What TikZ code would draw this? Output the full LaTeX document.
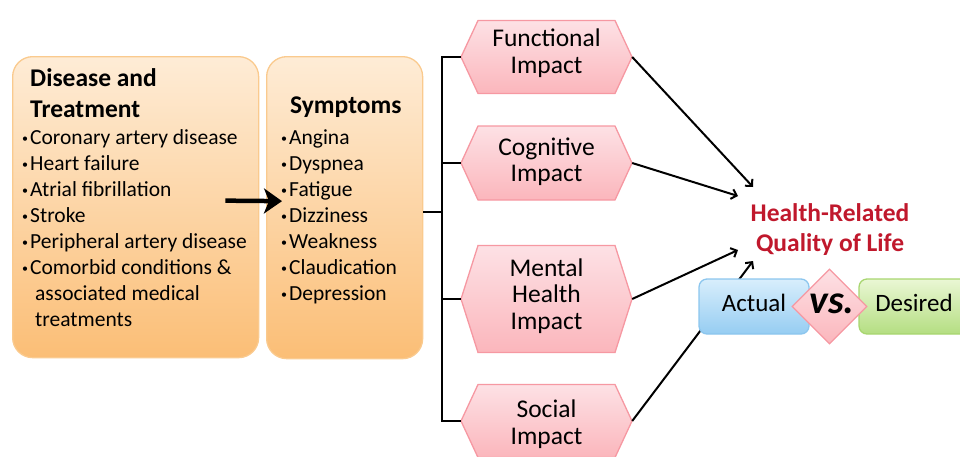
\documentclass[tikz,border=0pt]{standalone}
\usepackage{fontspec}
\setmainfont{Carlito}
\usetikzlibrary{arrows.meta}
\usetikzlibrary{positioning}
\usetikzlibrary{shapes.geometric}

\definecolor{peachtop}{RGB}{254,236,214}
\definecolor{peachbot}{RGB}{251,190,118}
\definecolor{peachline}{RGB}{250,202,142}
\definecolor{pinktop}{RGB}{253,225,229}
\definecolor{pinkbot}{RGB}{251,182,188}
\definecolor{pinkline}{RGB}{246,152,162}
\definecolor{bluetop}{RGB}{216,238,252}
\definecolor{bluebot}{RGB}{150,205,242}
\definecolor{blueline}{RGB}{140,198,238}
\definecolor{greentop}{RGB}{234,247,212}
\definecolor{greenbot}{RGB}{180,222,130}
\definecolor{greenline}{RGB}{168,214,112}
\definecolor{hrqred}{RGB}{192,24,44}

\newcommand{\bul}{\makebox[8pt][l]{\fontsize{12}{12}\selectfont\raisebox{1.5pt}{•}}}

\tikzset{panel/.style = {draw=peachline, line width=1.3pt, rounded corners=20pt,
                         top color=peachtop, bottom color=peachbot},
         hexbox/.style = {draw=pinkline, line width=1.3pt,
                          top color=pinktop, bottom color=pinkbot},
         hexnode/.style = {minimum width=171pt, inner sep=0pt},
         hextext/.style = {inner sep=0pt, align=center,
                           font=\fontsize{25.5}{26.5}\selectfont},
         body/.style = {inner sep=0pt, font=\fontsize{21.5}{26}\selectfont},
         head/.style = {inner sep=0pt, font=\fontsize{25.5}{31}\selectfont\bfseries},
         tree/.style = {line width=2pt},
         link/.style = {line width=2pt, -{Straight Barb[length=5pt, width=10pt]}},
         bigarrow/.style = {line width=4.5pt, -{Stealth[length=18pt, width=25pt, inset=5pt]}},
         pill/.style = {line width=1.3pt, rounded corners=8pt, minimum width=110pt,
                        minimum height=55pt, text depth=7pt, font=\fontsize{25}{25}\selectfont}}

\begin{document}
\begin{tikzpicture}[x=1pt, y=-1pt]
    \useasboundingbox (0,0) rectangle (960,456);
    \clip (0,0) rectangle (960,456);

    \node [panel, minimum width=246pt, minimum height=301pt, anchor=north west] (dis) at (12,56) {};
    \node [panel, minimum width=156pt, minimum height=302pt, anchor=north west] (sym) at (266,56) {};

    \node [head, anchor=base west] (dis-a) at (30,86) {Disease and};
    \node [head, anchor=base west] (dis-b) at (30,117) {Treatment};
    \foreach \t [count=\i from 0] in {Coronary artery disease, Heart failure, Atrial fibrillation,
                                      Stroke, Peripheral artery disease, Comorbid conditions \&}
      \node [body, anchor=base west] (dis-\i) at (22,144+26*\i) {\bul\t};
    \node [body, anchor=base west] (dis-6) at (35,300) {associated medical};
    \node [body, anchor=base west] (dis-7) at (35,326) {treatments};

    \node [head, anchor=base west] (sym-a) at (290,113) {Symptoms};
    \foreach \t [count=\i from 0] in {Angina, Dyspnea, Fatigue, Dizziness, Weakness,
                                      Claudication, Depression}
      \node [body, anchor=base west] (sym-\i) at (281,144+26*\i) {\bul\t};

    \draw [bigarrow] ([xshift=-34pt, yshift=6.5pt]dis.east) -- ([xshift=16pt, yshift=6.5pt]sym.west);

    \foreach \nm/\cy/\hh/\dy/\txt in {fun/57/73/4/{Functional\\Impact}, cog/163/74/1.5/{Cognitive\\Impact},
                                      men/299/107/3/{Mental\\Health\\Impact}, soc/421/73/-3/{Social\\Impact}} {
      \draw [hexbox] (461,\cy) -- ++(17,-\hh/2) -- ++(137,0) -- ++(17,\hh/2)
                     -- ++(-17,\hh/2) -- ++(-137,0) -- cycle;
      \node [hexnode, minimum height=\hh] (\nm) at (546.5,\cy) {};
      \node [hextext] (\nm-t) at ([yshift=\dy pt]\nm.center) {\txt};
    }

    \coordinate (jn) at (442,212);
    \draw [tree] (sym.east |- jn) -- (jn);
    \foreach \nm in {fun, cog, men, soc}
      \draw [tree] (jn) |- (\nm.west);

    \coordinate (h1) at (753,187);
    \coordinate (h2) at (738,196);
    \coordinate (h3) at (738,250);
    \coordinate (h4) at (753,261);
    \draw [link] (fun.east) -- (h1);
    \draw [link] (cog.east) -- (h2);
    \draw [link] (men.east) -- (h3);
    \draw [link] (soc.east) -- (h4);

    \node [font=\fontsize{25.5}{30}\selectfont\bfseries, text=hrqred, align=center] (hrq) at (830,229.5)
          {Health-Related\\Quality of Life};

    \node [pill, draw=blueline, top color=bluetop, bottom color=bluebot] (act) at (754,306.5) {Actual};
    \node [pill, draw=greenline, top color=greentop, bottom color=greenbot] (des) at (914,306.5) {Desired};
    \node [diamond, draw=pinkline, line width=1.3pt, top color=pinktop, bottom color=pinkbot,
           minimum width=75pt, minimum height=75pt, inner sep=0pt] (vs) at (829.5,306.5) {};
    \node [font=\fontsize{40}{40}\selectfont\bfseries\itshape] (vs-t) at (832,304) {vs.};
\end{tikzpicture}
\end{document}
